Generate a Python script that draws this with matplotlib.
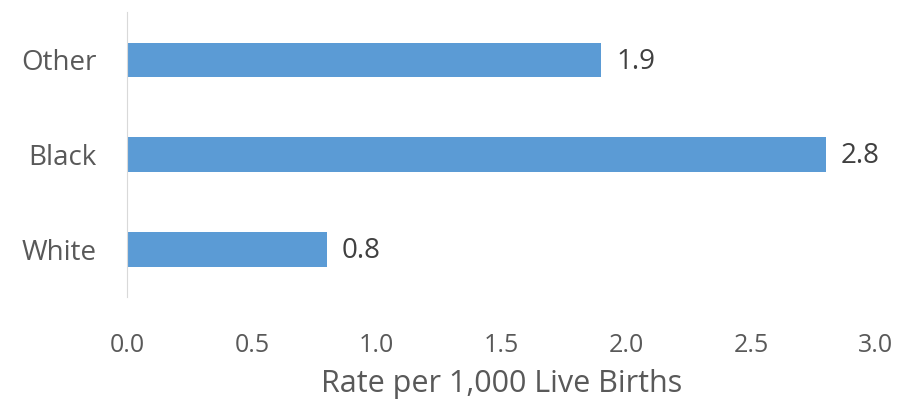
import matplotlib
matplotlib.use("Agg")
import matplotlib.pyplot as plt

categories = ["White", "Black", "Other"]
rates = [0.8, 2.8, 1.9]
xticks = [0.0, 0.5, 1.0, 1.5, 2.0, 2.5, 3.0]

plt.rcParams['font.family'] = ['Open Sans', 'DejaVu Sans']

fig = plt.figure(figsize=(8.98, 4.05), dpi=100)
ax = fig.add_axes([0.1414, 0.2667, 0.8341, 0.7033])

bars = ax.barh(range(len(categories)), rates, height=0.36, color="#5B9BD5")
for i, v in enumerate(rates):
    ax.text(v + 0.06, i - 0.02, "%.1f" % v, va="center", ha="left",
            fontsize=20, color="#404040")

ax.set_xlim(0, 3.0)
ax.set_ylim(-0.5, 2.5)
ax.set_xticks(xticks)
ax.set_xticklabels(["%.1f" % t for t in xticks])
ax.set_yticks(range(len(categories)))
ax.set_yticklabels(categories)
ax.tick_params(length=0, labelcolor="#595959")
ax.tick_params(axis="x", pad=26, labelsize=18)
ax.tick_params(axis="y", pad=22, labelsize=20)
for s in ["top", "right", "bottom"]:
    ax.spines[s].set_visible(False)
ax.spines["left"].set_color("#D9D9D9")
ax.set_xlabel("Rate per 1,000 Live Births", fontsize=22, color="#595959", labelpad=8)

fig.savefig("out.png", dpi=100)
